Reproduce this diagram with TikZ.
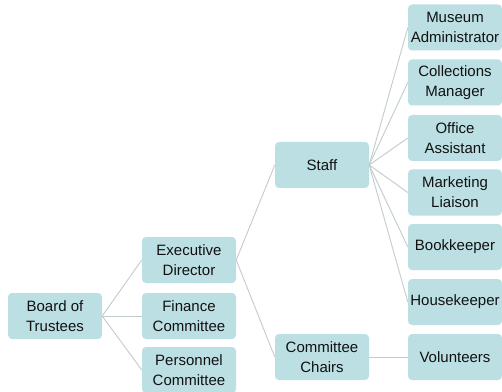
\documentclass[tikz,border=0pt]{standalone}
\usepackage{fontspec}
\setmainfont{Liberation Sans}
\definecolor{boxfill}{HTML}{BCDFE3}
\definecolor{linecol}{HTML}{C2CCCC}
\definecolor{txt}{HTML}{111111}
\begin{document}
\begin{tikzpicture}[x=1pt,y=1pt,
  box/.style={fill=boxfill, draw=none, rounded corners=4pt, minimum width=94pt, minimum height=46pt,
    inner sep=0pt, align=center, text=txt, font=\fontsize{15}{20}\selectfont},
  conn/.style={draw=linecol, line width=0.9pt}]
\useasboundingbox (0,0) rectangle (502,391);
\fill[white] (0,0) rectangle (502,391);
\node[box] (board) at (55,391-316) {Board of\\Trustees};
\node[box] (exec) at (189,391-260) {Executive\\Director};
\node[box] (fin) at (189,391-316) {Finance\\Committee};
\node[box] (pers) at (189,391-370) {Personnel\\Committee};
\node[box] (staff) at (322,391-165) {Staff};
\node[box] (chairs) at (322,391-357) {Committee\\Chairs};
\node[box] (museum) at (455,391-27.5) {Museum\\Administrator};
\node[box] (coll) at (455,391-82.5) {Collections\\Manager};
\node[box] (office) at (455,391-138) {Office\\Assistant};
\node[box] (market) at (455,391-192.5) {Marketing\\Liaison};
\node[box] (book) at (455,391-247) {Bookkeeper};
\node[box] (house) at (455,391-302) {Housekeeper};
\node[box] (vol) at (455,391-357) {Volunteers};
\foreach \c in {exec,fin,pers} \draw[conn] (board.east) -- (\c.west);
\foreach \c in {staff,chairs} \draw[conn] (exec.east) -- (\c.west);
\foreach \c in {museum,coll,office,market,book,house} \draw[conn] (staff.east) -- (\c.west);
\draw[conn] (chairs.east) -- (vol.west);
\end{tikzpicture}
\end{document}
